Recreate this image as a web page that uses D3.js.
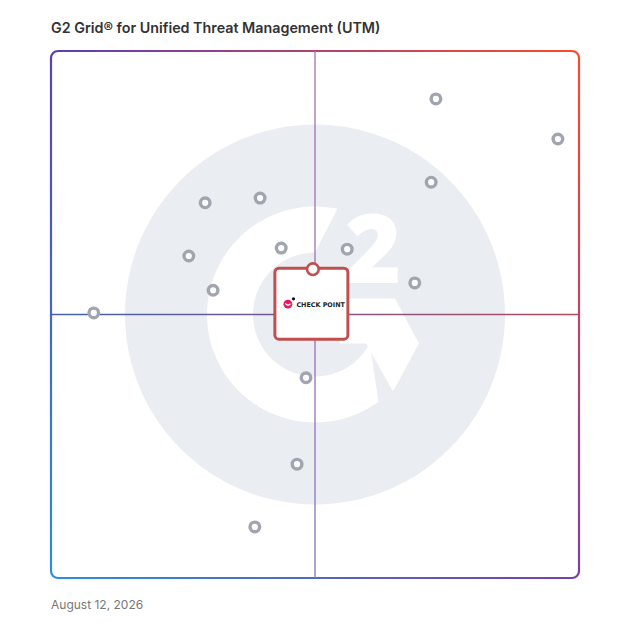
<!DOCTYPE html>
<html>
<head>
<meta charset="utf-8">
<script src="https://cdn.jsdelivr.net/npm/d3@7"></script>
<style>
  html, body { margin: 0; padding: 0; background: #fff; }
</style>
</head>
<body>
<svg id="chart" width="628" height="628"></svg>
<script>
// Chart values, 0-100 on both axes
const title = "G2 Grid\u00AE for Unified Threat Management (UTM)";
const dateLabel = "August 12, 2026";
const satisfaction   = [72.9, 96.0, 72.0, 29.2, 39.6, 43.6, 56.1, 26.1, 30.7, 68.9, 8.1, 48.3, 46.6, 38.6];
const marketPresence = [90.9, 83.3, 75.1, 71.2, 72.1, 62.6, 62.4, 61.1, 54.6, 56.0, 50.3, 38.0, 21.6, 9.7];
const highlightName = "CHECK POINT";
const highlightValue = [49.6, 58.6];

const width = 628, height = 628;
const grid = { left: 51, top: 51, right: 579, bottom: 578 };
const corner = { tl: "#5b3fb5", tr: "#ff4a2a", br: "#7b3fa8", bl: "#2a90d8" };

const svg = d3.select("#chart");
const defs = svg.append("defs");

const x = d3.scaleLinear().domain([0, 100]).range([grid.left, grid.right]);
const y = d3.scaleLinear().domain([0, 100]).range([grid.bottom, grid.top]);

// Title and date
svg.append("text")
    .attr("x", 51).attr("y", 33)
    .attr("font-family", "Inter, 'Open Sans', sans-serif")
    .attr("font-size", 14.3)
    .attr("font-weight", 600)
    .attr("fill", "#333")
    .text(title);

svg.append("text")
    .attr("x", 51).attr("y", 609)
    .attr("font-family", "Inter, 'Open Sans', sans-serif")
    .attr("font-size", 12)
    .attr("fill", "#777")
    .text(dateLabel);

// G2 watermark
const cx = x(50), cy = y(50);
const wm = svg.append("g");
wm.append("circle").attr("cx", cx).attr("cy", cy).attr("r", 190).attr("fill", "#eaedf1");

const R = 108, r = 62;
const rad = a => (a - 90) * Math.PI / 180;   // clock angle -> canvas angle
const pt = (rr, a) => [cx + rr * Math.cos(rad(a)), cy + rr * Math.sin(rad(a))];
const ring = d3.path();
let p0 = pt(R, 12);
ring.moveTo(p0[0], p0[1]);
ring.arc(cx, cy, R, rad(12), rad(144 - 360), true);
let p1 = pt(r, 118);
ring.lineTo(p1[0], p1[1]);
ring.arc(cx, cy, r, rad(118), rad(360), false);
ring.closePath();
wm.append("path").attr("d", ring.toString()).attr("fill", "#fff");

const chevron = [[cx + 25, cy - 16], [cx + 80, cy - 16], [cx + 104, cy + 29], [cx + 78, cy + 77], [cx + 51, cy + 29], [cx + 25, cy + 29]];
wm.append("path").attr("d", d3.line()(chevron) + "Z").attr("fill", "#fff");

wm.append("text")
    .attr("x", cx + 58).attr("y", cy - 32)
    .attr("text-anchor", "middle")
    .attr("font-family", "'Open Sans', sans-serif")
    .attr("font-weight", 800)
    .attr("font-size", 96)
    .attr("fill", "#fff")
    .text("2");

// Gradient border, one edge at a time
function edgeGrad(id, x1, y1, x2, y2, c1, c2) {
    const g = defs.append("linearGradient").attr("id", id)
        .attr("gradientUnits", "userSpaceOnUse")
        .attr("x1", x1).attr("y1", y1).attr("x2", x2).attr("y2", y2);
    g.append("stop").attr("offset", 0).attr("stop-color", c1);
    g.append("stop").attr("offset", 1).attr("stop-color", c2);
    return `url(#${id})`;
}
const k = 7, L = grid.left, T = grid.top, Rt = grid.right, B = grid.bottom;
const edges = [
    { d: `M${L},${T + k} A${k},${k} 0 0 1 ${L + k},${T} L${Rt - k},${T} A${k},${k} 0 0 1 ${Rt},${T + k}`,
      g: edgeGrad("gTop", L, T, Rt, T, corner.tl, corner.tr) },
    { d: `M${Rt},${T + k} L${Rt},${B - k}`,
      g: edgeGrad("gRight", Rt, T, Rt, B, corner.tr, corner.br) },
    { d: `M${Rt},${B - k} A${k},${k} 0 0 1 ${Rt - k},${B} L${L + k},${B} A${k},${k} 0 0 1 ${L},${B - k}`,
      g: edgeGrad("gBottom", L, B, Rt, B, corner.bl, corner.br) },
    { d: `M${L},${B - k} L${L},${T + k}`,
      g: edgeGrad("gLeft", L, T, L, B, corner.tl, corner.bl) }
];
svg.append("g").selectAll("path").data(edges).join("path")
    .attr("d", d => d.d)
    .attr("fill", "none")
    .attr("stroke", d => d.g)
    .attr("stroke-width", 2.2);

// Quadrant lines
const vGrad = edgeGrad("gV", cx, T, cx, B, "#b07aae", "#8a7cc8");
const hGrad = edgeGrad("gH", L, cy, Rt, cy, "#4262b4", "#b84a5e");
svg.append("line").attr("x1", cx).attr("x2", cx).attr("y1", T).attr("y2", B)
    .attr("stroke", vGrad).attr("stroke-width", 1.4);
svg.append("line").attr("x1", L).attr("x2", Rt).attr("y1", cy).attr("y2", cy)
    .attr("stroke", hGrad).attr("stroke-width", 1.4);

// Products
svg.append("g").selectAll("circle")
    .data(d3.zip(satisfaction, marketPresence))
    .join("circle")
    .attr("cx", d => x(d[0]))
    .attr("cy", d => y(d[1]))
    .attr("r", 4.8)
    .attr("fill", "#fff")
    .attr("stroke", "#a1a5af")
    .attr("stroke-width", 3.4);

// Highlighted product card
const hx = x(highlightValue[0]), hy = y(highlightValue[1]);
const card = svg.append("g");
card.append("rect")
    .attr("x", hx - 38).attr("y", hy - 1)
    .attr("width", 73).attr("height", 71)
    .attr("rx", 4)
    .attr("fill", "#fff")
    .attr("stroke", "#c0504f")
    .attr("stroke-width", 3);
card.append("circle")
    .attr("cx", hx).attr("cy", hy)
    .attr("r", 5.8)
    .attr("fill", "#fff")
    .attr("stroke", "#c0504f")
    .attr("stroke-width", 2.6);

// Check Point logo mark
const lx = hx - 25, ly = hy + 35;
card.append("circle").attr("cx", lx).attr("cy", ly).attr("r", 4.4).attr("fill", "#e8175d");
card.append("path")
    .attr("d", `M${lx - 2.6},${ly - 0.8} Q${lx},${ly + 2.4} ${lx + 2.6},${ly - 0.4}`)
    .attr("fill", "none").attr("stroke", "#fff").attr("stroke-width", 1.2);
card.append("circle").attr("cx", lx + 5.6).attr("cy", ly - 5.4).attr("r", 1.6).attr("fill", "#111");
card.append("text")
    .attr("x", lx + 8.5).attr("y", ly + 2.6)
    .attr("font-family", "'DejaVu Sans', sans-serif")
    .attr("font-size", 6.4)
    .attr("font-weight", 700)
    .attr("fill", "#222")
    .text(highlightName);
</script>
</body>
</html>
